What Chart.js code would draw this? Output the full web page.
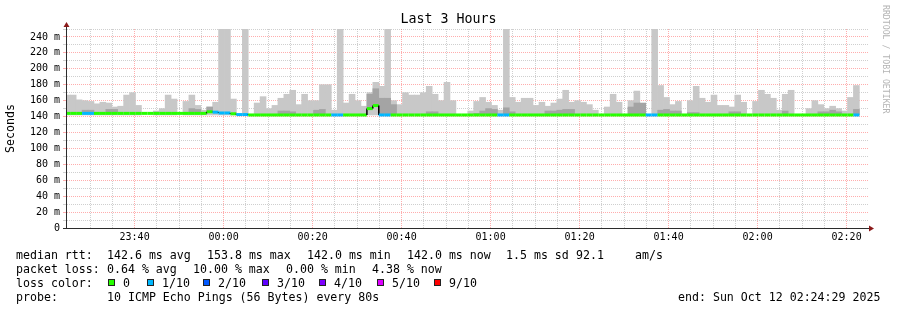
<!DOCTYPE html>
<html>
<head>
<meta charset="utf-8">
<script src="https://cdn.jsdelivr.net/npm/chart.js@4.4.1/dist/chart.umd.min.js"></script>
<style>
  body { margin: 0; background: #fff; }
  #wrap { position: relative; width: 897px; height: 310px; font-family: "DejaVu Sans Mono", monospace; color: #000; overflow: hidden; }
  #wrap canvas { position: absolute; left: 0; top: 0; }
  .t { position: absolute; white-space: pre; font-size: 11.6px; line-height: 14px; }
  .box { position: absolute; width: 5px; height: 5px; border: 1px solid #222; }
</style>
</head>
<body>
<div id="wrap">
  <canvas id="c" width="897" height="310"></canvas>
  <div class="t" style="left:0;top:12px;width:897px;text-align:center;font-size:13.3px;">Last 3 Hours</div>
  <div class="t" style="left:882px;top:5px;writing-mode:vertical-rl;font-size:8.2px;line-height:8px;color:#b4b4b4;">RRDTOOL / TOBI OETIKER</div>

  <div class="t" style="left:16px;top:248px;">median rtt:</div>
  <div class="t" style="left:107px;top:248px;">142.6 ms avg</div>
  <div class="t" style="left:207px;top:248px;">153.8 ms max</div>
  <div class="t" style="left:307px;top:248px;">142.0 ms min</div>
  <div class="t" style="left:407px;top:248px;">142.0 ms now</div>
  <div class="t" style="left:506px;top:248px;">1.5 ms sd</div>
  <div class="t" style="left:576px;top:248px;">92.1</div>
  <div class="t" style="left:635px;top:248px;">am/s</div>

  <div class="t" style="left:16px;top:261.5px;">packet loss:</div>
  <div class="t" style="left:107px;top:261.5px;">0.64 % avg</div>
  <div class="t" style="left:193px;top:261.5px;">10.00 % max</div>
  <div class="t" style="left:286px;top:261.5px;">0.00 % min</div>
  <div class="t" style="left:372px;top:261.5px;">4.38 % now</div>

  <div class="t" style="left:16px;top:275.5px;">loss color:</div>
  <div id="lossLegend"></div>

  <div class="t" style="left:16px;top:289.5px;">probe:</div>
  <div class="t" style="left:107px;top:289.5px;">10 ICMP Echo Pings (56 Bytes) every 80s</div>
  <div class="t" style="left:678px;top:289.5px;">end: Sun Oct 12 02:24:29 2025</div>
</div>
<script>
// ventana de tiempo en minutos respecto a las 00:00
const startMin = -35.19;   // 23:24:49
const endMin = 144.81;     // 02:24:49
const stepMin = 80 / 60;   // una muestra cada 80 s
const firstSample = -35.13;

// etiquetas del eje x
const timeTicks = [-20, 0, 20, 40, 60, 80, 100, 120, 140];
const timeTickLabels = ["23:40", "00:00", "00:20", "00:40", "01:00", "01:20", "01:40", "02:00", "02:20"];

// colores de perdida
const lossColors = ["#26ff00", "#00b8ff", "#0059ff", "#5e00ff", "#7e00ff", "#dd00ff", "#ff0000"];
const lossLabels = ["0", "1/10", "2/10", "3/10", "4/10", "5/10", "9/10"];

// ping mas rapido de todo el periodo (base del humo)
const fastestRtt = 142;

// mediana (ms) por muestra
const medianRtt = [
  144, 144, 144, 144, 144, 144, 144, 144, 144, 144,
  144, 144, 144, 144, 144, 144, 144, 144, 144, 144,
  144, 144, 144, 144, 146, 145.5, 144.5, 144.5, 143.5, 142.5,
  142.5, 142, 142, 142, 142, 142, 142, 142, 142, 142,
  142, 142, 142, 142, 142, 142, 142, 142, 142, 142,
  142, 150, 153.8, 142, 142, 142, 142, 142, 142, 142,
  142, 142, 142, 142, 142, 142, 142, 142, 142, 142,
  142, 142, 142, 142, 142, 142, 142, 142, 142, 142,
  142, 142, 142, 142, 142, 142, 142, 142, 142, 142,
  142, 142, 142, 142, 142, 142, 142, 142, 142, 142,
  142, 142, 142, 142, 142, 142, 142, 142, 142, 142,
  142, 142, 142, 142, 142, 142, 142, 142, 142, 142,
  142, 142, 142, 142, 142, 142, 142, 142, 142, 142,
  142, 142, 142, 142
];

// indice de perdida (0 = 0/10, 1 = 1/10, ...)
const lossIdx = [
  0, 0, 0, 1, 1, 0, 0, 0, 0, 0,
  0, 0, 0, 0, 0, 0, 0, 0, 0, 0,
  0, 0, 0, 0, 0, 1, 1, 1, 0, 1,
  1, 0, 0, 0, 0, 0, 0, 0, 0, 0,
  0, 0, 0, 0, 0, 1, 1, 0, 0, 0,
  0, 0, 0, 1, 1, 0, 0, 0, 0, 0,
  0, 0, 0, 0, 0, 0, 0, 0, 0, 0,
  0, 0, 0, 1, 1, 0, 0, 0, 0, 0,
  0, 0, 0, 0, 0, 0, 0, 0, 0, 0,
  0, 0, 0, 0, 0, 0, 0, 0, 1, 1,
  0, 0, 0, 0, 0, 0, 0, 0, 0, 0,
  0, 0, 0, 0, 0, 0, 0, 0, 0, 0,
  0, 0, 0, 0, 0, 0, 0, 0, 0, 0,
  0, 0, 0, 1
];

// humo: ping mas lento (ms), null = sin humo
const smokeMax = [
  167, 167, 161, 160, 159, 156, 158, 157, 152, 153,
  167, 170, 154, null, null, 147, 150, 167, 162, null,
  159, 167, 154, 148, 152, 158, 300, 300, 162, null,
  300, null, 157, 165, 150, 154, 163, 168, 173, 155,
  168, 160, 160, 180, 180, 148, 300, 157, 168, 160,
  153, 170, 183, 178, 300, 160, 155, 170, 167, 167,
  170, 178, 168, 160, 183, 160, null, null, 147, 159,
  164, 158, 154, 148, 300, 164, 158, 163, 163, 154,
  158, 153, 157, 162, 173, 158, 160, 158, 155, 148,
  null, 152, 168, 158, null, 160, 172, 148, null, 300,
  179, 164, 155, 159, null, 160, 178, 163, 158, 167,
  154, 154, 152, 167, 158, null, 159, 173, 168, 163,
  148, 168, 173, null, null, 150, 160, 155, 150, 153,
  150, 147, 164, 179
];

// humo interior (pings centrales), null = nada
const smokeInner = [
  null, null, null, 148, 148, null, null, 149, 149, null,
  null, null, null, null, null, null, null, null, null, null,
  null, 150, 149, null, 152, null, null, null, null, null,
  null, null, null, null, null, null, 147, 147, 146, null,
  null, null, 148, 149, null, null, null, null, null, null,
  null, 168, 175, 163, 163, 155, null, null, null, null,
  null, 146, 146, null, null, null, null, null, null, 144,
  147, 150, 149, null, 151, 146, null, null, null, null,
  null, 147, 147, 148, 149, 149, null, null, null, null,
  null, null, null, null, null, 152, 157, 157, null, null,
  148, 149, 147, 147, null, 145, 145, null, null, null,
  null, null, 146, 146, null, null, null, null, null, null,
  null, 147, null, null, null, null, null, 146, 146, 148,
  146, null, null, 149
];

const FONT = "'DejaVu Sans Mono', monospace";
const sampleTimes = medianRtt.map((_, k) => firstSample + k * stepMin);

// barras flotantes desde el ping mas rapido hasta el humo
function smokeBars(tops, base) {
  const out = [];
  tops.forEach((top, k) => {
    if (top !== null) out.push({ x: sampleTimes[k], y: [base === undefined ? medianRtt[k] : base, top] });
  });
  return out;
}

// linea de la mediana en escalones (dos puntos por muestra)
const medianPoints = [];
sampleTimes.forEach((t, k) => {
  medianPoints.push({ x: t - stepMin / 2, y: medianRtt[k] });
  medianPoints.push({ x: t + stepMin / 2, y: medianRtt[k] });
});

const majorGrid = "rgba(255,60,60,0.42)";
const minorGrid = "rgba(140,140,140,0.42)";

const axisArrows = {
  id: "axisArrows",
  afterDraw(chart) {
    const { ctx, chartArea: a } = chart;
    const x0 = Math.round(a.left) - 0.5;
    const y0 = Math.round(a.bottom) + 0.5;
    ctx.save();
    ctx.strokeStyle = "#2c2c2c";
    ctx.lineWidth = 1;
    ctx.beginPath();
    ctx.moveTo(x0, y0);
    ctx.lineTo(x0, a.top - 4);
    ctx.moveTo(a.left - 4, y0);
    ctx.lineTo(a.right + 2, y0);
    ctx.stroke();
    ctx.fillStyle = "#8b1a1a";
    ctx.beginPath();
    ctx.moveTo(x0 - 3, a.top - 2);
    ctx.lineTo(x0 + 3, a.top - 2);
    ctx.lineTo(x0, a.top - 7);
    ctx.closePath();
    ctx.fill();
    ctx.beginPath();
    ctx.moveTo(a.right + 1, y0 - 3);
    ctx.lineTo(a.right + 1, y0 + 3);
    ctx.lineTo(a.right + 6, y0);
    ctx.closePath();
    ctx.fill();
    ctx.restore();
  },
};

const gridColor = (c) => (c.tick && c.tick.value % 20 === 0 ? majorGrid : minorGrid);

new Chart(document.getElementById("c"), {
  type: "bar",
  data: {
    datasets: [
      {
        type: "line",
        label: "median",
        data: medianPoints,
        order: 0,
        pointRadius: 0,
        borderWidth: 3,
        borderCapStyle: "butt",
        borderJoinStyle: "miter",
        tension: 0,
        segment: {
          borderColor: (c) => (c.p0DataIndex % 2 === 0 ? lossColors[lossIdx[c.p0DataIndex / 2]] : "#000"),
          borderWidth: (c) => (c.p0DataIndex % 2 === 0 ? 3 : 1.5),
        },
      },
      {
        label: "inner",
        data: smokeBars(smokeInner),
        order: 1,
        grouped: false,
        backgroundColor: "#a4a4a4",
        borderWidth: 0,
        barPercentage: 1,
        categoryPercentage: 1,
      },
      {
        label: "smoke",
        data: smokeBars(smokeMax, fastestRtt),
        order: 2,
        grouped: false,
        backgroundColor: "#c8c8c8",
        borderWidth: 0,
        barPercentage: 1,
        categoryPercentage: 1,
      },
    ],
  },
  options: {
    responsive: false,
    animation: false,
    devicePixelRatio: 1,
    layout: { padding: { top: 29, right: 29, left: 0, bottom: 0 } },
    plugins: { legend: { display: false }, tooltip: { enabled: false } },
    scales: {
      x: {
        type: "linear",
        offset: false,
        min: startMin,
        max: endMin,
        z: 1,
        grid: { color: gridColor, drawTicks: false, offset: false },
        border: { display: false, dash: [1, 1] },
        afterBuildTicks: (scale) => {
          const ticks = [];
          for (let m = -30; m <= 140; m += 5) ticks.push({ value: m });
          scale.ticks = ticks;
        },
        ticks: {
          autoSkip: false,
          maxRotation: 0,
          padding: 3,
          color: "#000",
          font: { family: FONT, size: 10 },
          callback: (v) => {
            const i = timeTicks.indexOf(v);
            return i >= 0 ? timeTickLabels[i] : "";
          },
        },
        afterFit: (scale) => { scale.height = 82; },
      },
      y: {
        min: 0,
        max: 250,
        z: 1,
        grid: { color: gridColor, drawTicks: true, tickLength: 4 },
        border: { display: false, dash: [1, 1] },
        ticks: {
          stepSize: 10,
          autoSkip: false,
          padding: 3,
          color: "#000",
          font: { family: FONT, size: 10 },
          callback: (v) => (v === 0 ? "0" : v % 20 === 0 ? v + " m" : ""),
        },
        title: {
          display: true,
          text: "Seconds",
          color: "#000",
          font: { family: FONT, size: 11.6 },
          padding: { top: 4, bottom: 0 },
        },
        afterFit: (scale) => { scale.width = 67; },
      },
    },
  },
  plugins: [axisArrows],
});

// leyenda de colores de perdida
const legendBoxX = [108, 147, 203, 262, 319, 377, 434];
const legend = document.getElementById("lossLegend");
lossColors.forEach((col, i) => {
  const b = document.createElement("div");
  b.className = "box";
  b.style.left = legendBoxX[i] + "px";
  b.style.top = "279px";
  b.style.background = col;
  legend.appendChild(b);
  const s = document.createElement("div");
  s.className = "t";
  s.style.left = legendBoxX[i] + 15 + "px";
  s.style.top = "275.5px";
  s.textContent = lossLabels[i];
  legend.appendChild(s);
});
</script>
</body>
</html>
